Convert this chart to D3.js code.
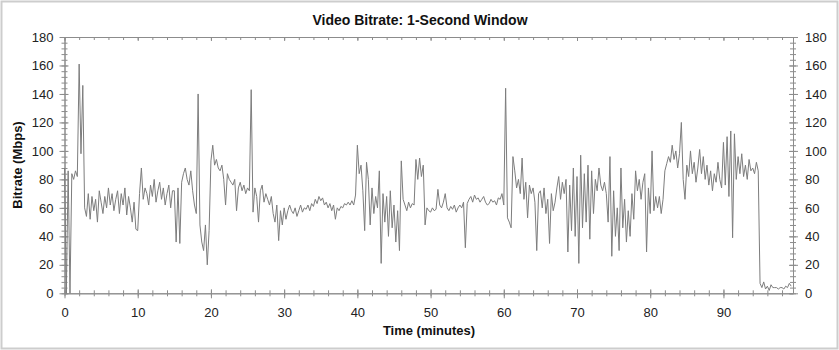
<!DOCTYPE html>
<html>
<head>
<meta charset="utf-8">
<script src="https://cdn.jsdelivr.net/npm/d3@7"></script>
<style>
  body { margin: 0; background: #fff; }
  svg { font-family: "Liberation Sans", Arial, sans-serif; }
  .axis path { stroke: #8c8c8c; }
  .axis line { stroke: #8c8c8c; }
  .axis text { fill: #222; font-size: 13px; }
</style>
</head>
<body>
<svg width="839" height="350"></svg>
<script>
// minutes per sample in the series below
var stepMinutes = 0.25;

// bitrate (Mbps), 4 samples per minute
var bitrate = [
  88, 0, 86, 0,      84, 80, 86, 82,    161, 98, 146, 60,  54, 70, 52, 68,
  58, 66, 50, 72,    64, 56, 68, 60,    74, 62, 70, 58,    66, 72, 56, 70,
  62, 74, 55, 68,    60, 50, 64, 45,    44, 70, 88, 66,    74, 70, 62, 76,
  68, 80, 64, 72,    78, 66, 74, 62,    70, 76, 60, 72,    72, 36, 74, 35,
  78, 84, 88, 80,    76, 86, 72, 62,    56, 140, 48, 36,   30, 48, 20, 44,
  93, 104, 90, 94,   88, 86, 90, 80,    62, 84, 80, 78,    76, 80, 58, 74,
  78, 72, 76, 70,    74, 72, 143, 57,   74, 68, 50, 72,    76, 64, 70, 66,
  62, 68, 56, 50,    62, 37, 58, 48,    60, 52, 58, 62,    58, 56, 60, 54,
  58, 62, 57, 60,    59, 62, 58, 63,    61, 66, 63, 68,    65, 67, 62, 64,
  60, 63, 58, 62,    52, 60, 58, 61,    60, 63, 62, 64,    62, 65, 62, 69,
  104, 84, 90, 72,   44, 92, 80, 48,    74, 56, 68, 60,    86, 21, 70, 50,
  68, 40, 72, 46,    62, 36, 58, 30,    93, 66, 62, 58,    64, 60, 63, 62,
  94, 80, 95, 82,    90, 48, 60, 58,    57, 60, 58, 59,    73, 62, 60, 64,
  70, 60, 58, 61,    59, 62, 57, 60,    62, 60, 64, 32,    63, 66, 68, 64,
  69, 66, 67, 64,    66, 68, 64, 62,    63, 66, 64, 65,    62, 67, 66, 70,
  62, 144, 53, 50,   46, 96, 86, 74,    80, 70, 95, 66,    78, 53, 76, 70,
  74, 64, 30, 70,    72, 60, 74, 56,    66, 35, 70, 58,    64, 74, 82, 66,
  78, 70, 80, 29,    76, 44, 88, 40,    82, 21, 97, 46,    84, 50, 90, 38,
  86, 56, 80, 72,    88, 76, 72, 78,    70, 50, 96, 26,    72, 40, 60, 30,
  88, 46, 66, 36,    58, 40, 70, 52,    86, 72, 80, 66,    78, 84, 29, 74,
  56, 100, 58, 68,   60, 68, 56, 66,    86, 91, 96, 92,    104, 94, 100, 88,
  98, 120, 80, 66,   90, 82, 100, 84,   92, 78, 88, 101,   84, 96, 80, 90,
  76, 86, 72, 84,    78, 92, 80, 74,    106, 76, 110, 68,  114, 39, 112, 80,
  96, 84, 98, 82,    90, 80, 94, 86,    88, 84, 92, 86,    7, 4, 8, 3,
  5, 2, 6, 4,        4, 4, 3, 4,        4, 3, 5, 4,        7, 5
];

var xTicks = [0, 10, 20, 30, 40, 50, 60, 70, 80, 90];
var yTicks = [0, 20, 40, 60, 80, 100, 120, 140, 160, 180];

var svg = d3.select("svg"),
    margin = {top: 37, right: 46, bottom: 56.7, left: 64.5},
    width = 839 - margin.left - margin.right,
    height = 350 - margin.top - margin.bottom;

// outer frame
svg.append("rect")
    .attr("x", 1.5).attr("y", 1.5)
    .attr("width", 836).attr("height", 347)
    .attr("fill", "none")
    .attr("stroke", "#cdcdcd")
    .attr("stroke-width", 2);

var g = svg.append("g")
    .attr("transform", "translate(" + margin.left + "," + margin.top + ")");

var xScale = d3.scaleLinear().domain([0, 99.5]).range([0, width]);
var yScale = d3.scaleLinear().domain([0, 180]).range([height, 0]);

var data = bitrate.map(function(v, i) { return {t: i * stepMinutes, v: v}; });

// minor ticks
var xMinor = d3.range(0, 100, 2), yMinor = d3.range(0, 181, 4);

function crossTicks(sel, attr, len) {
  sel.selectAll(".tick line").attr(attr, len);
}

g.append("g").attr("class", "axis")
    .attr("transform", "translate(0," + height + ")")
    .call(d3.axisBottom(xScale).tickValues(xMinor).tickFormat("").tickSize(3).tickSizeOuter(0))
    .call(crossTicks, "y1", -3);
g.append("g").attr("class", "axis")
    .call(d3.axisTop(xScale).tickValues(xMinor).tickFormat("").tickSize(-3).tickSizeOuter(0));
g.append("g").attr("class", "axis")
    .call(d3.axisLeft(yScale).tickValues(yMinor).tickFormat("").tickSize(3).tickSizeOuter(0))
    .call(crossTicks, "x1", 3);
g.append("g").attr("class", "axis")
    .attr("transform", "translate(" + width + ",0)")
    .call(d3.axisRight(yScale).tickValues(yMinor).tickFormat("").tickSize(3).tickSizeOuter(0))
    .call(crossTicks, "x1", -3);

// major ticks
g.append("g").attr("class", "axis")
    .attr("transform", "translate(0," + height + ")")
    .call(d3.axisBottom(xScale).tickValues(xTicks).tickSize(5).tickSizeOuter(0).tickPadding(9))
    .call(crossTicks, "y1", -4);
g.append("g").attr("class", "axis")
    .call(d3.axisTop(xScale).tickValues(xTicks).tickFormat("").tickSize(-4).tickSizeOuter(0));
g.append("g").attr("class", "axis")
    .call(d3.axisLeft(yScale).tickValues(yTicks).tickSize(5).tickSizeOuter(0).tickPadding(6))
    .call(crossTicks, "x1", 4);
g.append("g").attr("class", "axis")
    .attr("transform", "translate(" + width + ",0)")
    .call(d3.axisRight(yScale).tickValues(yTicks).tickSize(5).tickSizeOuter(0).tickPadding(7))
    .call(crossTicks, "x1", -4);

// the series
var line = d3.line()
    .x(function(d) { return xScale(d.t); })
    .y(function(d) { return yScale(d.v); });

g.append("path")
    .datum(data)
    .attr("fill", "none")
    .attr("stroke", "#7d7d7d")
    .attr("stroke-width", 1)
    .attr("d", line);

// title and axis labels
svg.append("text")
    .attr("x", 420).attr("y", 25)
    .attr("text-anchor", "middle")
    .style("font-size", "14px").style("font-weight", "bold").style("fill", "#111")
    .text("Video Bitrate: 1-Second Window");

svg.append("text")
    .attr("x", 429).attr("y", 335)
    .attr("text-anchor", "middle")
    .style("font-size", "13px").style("font-weight", "bold").style("fill", "#111")
    .text("Time (minutes)");

svg.append("text")
    .attr("transform", "translate(22,165) rotate(-90)")
    .attr("text-anchor", "middle")
    .style("font-size", "13px").style("font-weight", "bold").style("fill", "#111")
    .text("Bitrate (Mbps)");
</script>
</body>
</html>
